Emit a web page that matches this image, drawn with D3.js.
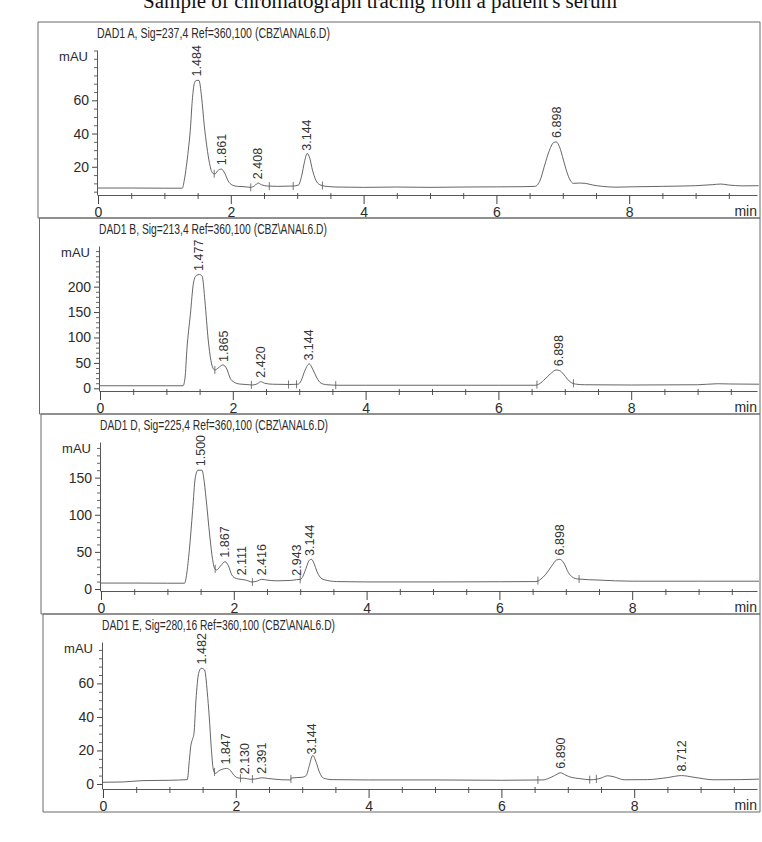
<!DOCTYPE html>
<html>
<head>
<meta charset="utf-8">
<script src="https://cdn.jsdelivr.net/npm/d3@7"></script>
<style>
    body { margin: 0; background: #fff; }
    svg { display: block; }
    .narrow { font-family: "Liberation Sans Narrow", "Arial Narrow", "Liberation Sans", sans-serif; fill: #2b2b2b; }
    .peak { font-family: "Liberation Sans", Arial, sans-serif; font-size: 12.5px; fill: #333; }
    .trace { fill: none; stroke: #4a4a4a; stroke-width: 0.85; }
    .frame { fill: none; stroke: #6a6a6a; stroke-width: 1; }
    .mark { stroke: #555; stroke-width: 0.8; }
</style>
</head>
<body>
<svg id="chart" width="762" height="842"></svg>
<script>
"use strict";

const pageTitle = "Sample of chromatograph tracing from a patient's serum";

const signalTitles = [
    "DAD1 A, Sig=237,4 Ref=360,100 (CBZ\\ANAL6.D)",
    "DAD1 B, Sig=213,4 Ref=360,100 (CBZ\\ANAL6.D)",
    "DAD1 D, Sig=225,4 Ref=360,100 (CBZ\\ANAL6.D)",
    "DAD1 E, Sig=280,16 Ref=360,100 (CBZ\\ANAL6.D)"
];

// [time (min), absorbance (mAU)]
const traceA = [
    [0, 7.2], [0.5, 7.2], [1.0, 7.1], [1.27, 7.1], [1.30, 12], [1.33, 20], [1.36, 30], [1.39, 42],
    [1.42, 60], [1.45, 70], [1.48, 72], [1.52, 72], [1.56, 62], [1.60, 45], [1.64, 32], [1.68, 22],
    [1.72, 16.5], [1.76, 15.6], [1.80, 17.5], [1.86, 18.6], [1.91, 16], [1.96, 11.5], [2.02, 9],
    [2.10, 8.2], [2.20, 8], [2.30, 7.6], [2.36, 8.6], [2.41, 10.2], [2.46, 9.2], [2.55, 8.4],
    [2.70, 8.2], [2.94, 8.4], [3.02, 9], [3.07, 15], [3.11, 23], [3.15, 28], [3.19, 25], [3.23, 18],
    [3.28, 12], [3.34, 9.2], [3.42, 8.3], [3.6, 7.8], [4.0, 7.6], [4.5, 7.8], [5.0, 7.6], [5.5, 7.8],
    [6.0, 7.9], [6.4, 8], [6.58, 8.2], [6.66, 12], [6.72, 20], [6.79, 29], [6.86, 34.5], [6.90, 35],
    [6.95, 32], [7.01, 24], [7.06, 17], [7.11, 12], [7.16, 10], [7.25, 10.2], [7.34, 10], [7.45, 9],
    [7.6, 8.2], [7.8, 7.7], [8.0, 7.9], [8.5, 8.2], [9.0, 8.6], [9.25, 9.2], [9.38, 9.6], [9.5, 9],
    [9.7, 8.5], [9.95, 8.6]
];
const traceB = [
    [0, 5], [0.5, 5], [1.0, 5], [1.25, 5], [1.28, 20], [1.31, 79], [1.36, 144], [1.41, 209],
    [1.45, 222], [1.50, 224], [1.54, 220], [1.58, 172], [1.63, 95], [1.67, 55], [1.70, 40],
    [1.73, 36], [1.78, 40], [1.85, 46], [1.91, 38], [1.96, 20], [2.02, 12], [2.10, 8.5], [2.20, 7.5],
    [2.30, 6.5], [2.37, 9], [2.42, 13], [2.48, 10], [2.60, 8], [2.86, 7.5], [2.98, 8], [3.03, 15],
    [3.08, 33], [3.15, 48], [3.21, 36], [3.26, 22], [3.33, 10], [3.42, 7], [3.6, 6], [4.0, 6],
    [5.0, 6], [6.0, 6], [6.55, 6], [6.62, 9], [6.70, 18], [6.78, 28], [6.87, 36], [6.92, 35],
    [6.98, 28], [7.04, 18], [7.10, 11], [7.18, 8], [7.3, 7], [8.0, 6.5], [9.0, 7], [9.3, 9],
    [9.5, 8.5], [9.95, 8]
];
const traceD = [
    [0, 8], [0.5, 8], [1.0, 7.8], [1.26, 7.8], [1.29, 20], [1.33, 52], [1.38, 106], [1.42, 150],
    [1.46, 160], [1.52, 160], [1.55, 148], [1.58, 124], [1.64, 70], [1.68, 40], [1.71, 28],
    [1.74, 25.6], [1.80, 31], [1.867, 36.8], [1.92, 31], [1.97, 19], [2.04, 14], [2.11, 13],
    [2.18, 12], [2.28, 9.4], [2.36, 11], [2.416, 13], [2.50, 12], [2.65, 11], [2.85, 11.5],
    [2.943, 12.5], [3.00, 13], [3.04, 17], [3.08, 26], [3.14, 39], [3.17, 40], [3.21, 34],
    [3.25, 24], [3.30, 16], [3.36, 12.5], [3.55, 10], [4.0, 9.5], [5.0, 9.5], [6.0, 9.8],
    [6.55, 10], [6.62, 13], [6.70, 20], [6.78, 30], [6.86, 39], [6.91, 40], [6.97, 35], [7.04, 22],
    [7.10, 16], [7.18, 13.5], [7.5, 12], [8.0, 10.5], [9.0, 10.5], [9.95, 10.5]
];
const traceE = [
    [0, 1], [0.3, 1.2], [0.6, 2], [1.0, 2.2], [1.27, 2.6], [1.30, 14], [1.32, 22], [1.35, 27],
    [1.37, 30], [1.40, 50], [1.44, 66], [1.48, 69], [1.53, 68], [1.57, 55], [1.60, 40], [1.63, 22],
    [1.66, 9], [1.69, 6.3], [1.75, 8], [1.80, 8.8], [1.86, 9.3], [1.92, 8], [1.97, 5.3], [2.05, 3.5],
    [2.13, 3.4], [2.22, 2.8], [2.30, 3], [2.391, 3.7], [2.48, 3.3], [2.70, 2.5], [2.82, 2.4],
    [2.84, 3.6], [3.00, 4], [3.06, 5], [3.10, 10], [3.16, 17], [3.21, 13], [3.26, 7], [3.32, 3.5],
    [3.45, 2.6], [4.0, 2.4], [5.0, 2.4], [6.0, 2.2], [6.62, 2.4], [6.72, 3.5], [6.80, 5],
    [6.89, 6.7], [6.97, 5.2], [7.05, 4], [7.18, 3.2], [7.35, 2.5], [7.5, 3.5], [7.6, 4.9],
    [7.7, 4.2], [7.85, 2.5], [8.2, 2.6], [8.5, 3.8], [8.712, 5], [8.9, 4], [9.2, 2.5], [9.6, 2.6],
    [9.95, 3]
];

// retention time labels printed above each peak
const peaksA = ["1.484", "1.861", "2.408", "3.144", "6.898"];
const peaksB = ["1.477", "1.865", "2.420", "3.144", "6.898"];
const peaksD = ["1.500", "1.867", "2.111", "2.416", "2.943", "3.144", "6.898"];
const peaksE = ["1.482", "1.847", "2.130", "2.391", "3.144", "6.890", "8.712"];

// integration event ticks on the traces
const marksA = [1.75, 2.30, 2.58, 2.94, 3.38];
const marksB = [1.73, 2.28, 2.84, 2.96, 3.55, 6.58, 7.13];
const marksD = [1.72, 2.28, 3.00, 6.58, 7.20];
const marksE = [1.68, 2.07, 2.25, 2.83, 6.55, 7.33, 7.43];

const xTicks = [0, 2, 4, 6, 8];
const yTicksA = [20, 40, 60];
const yTicksB = [0, 50, 100, 150, 200];
const yTicksD = [0, 50, 100, 150];
const yTicksE = [0, 20, 40, 60];

const yDomainA = [3, 90.3];
const yDomainB = [-5.3, 280];
const yDomainD = [-2.7, 198];
const yDomainE = [-3, 84.7];

/**
 * @class
 */
class ChromatogramPanel {

    /**
     * @constructor
     * @param svg {*}
     * @param opts {{top:number, bottom:number, left:number, zeroX:number, title:string,
     *   titleWidth:number, trace:Array, peaks:Array, marks:Array, yTicks:Array, yDomain:Array, minorStep:number}}
     */
    constructor(svg, opts) {
        this.svg = svg;
        this.opts = opts;
    }

    /**
     * @param t {number}
     * @return {number}
     */
    valueAt(t) {
        const trace = this.opts.trace;
        const i = d3.bisector(d => d[0]).left(trace, t);
        if (i <= 0) return trace[0][1];
        if (i >= trace.length) return trace[trace.length - 1][1];
        const a = trace[i - 1], b = trace[i];
        return a[1] + (b[1] - a[1]) * (t - a[0]) / (b[0] - a[0]);
    }

    render(idx) {
        const o = this.opts;
        const right = ChromatogramPanel.frameRight;
        const axisY = o.bottom - 23;
        const g = this.svg.append("g");

        g.append("path").attr("class", "frame")
            .attr("d", `M${right},${o.top}H${o.left}V${o.bottom}H${right}V${o.top}`);

        const x = d3.scaleLinear()
            .domain([0, (right - 3 - o.zeroX) / ChromatogramPanel.pxPerMin])
            .range([o.zeroX, right - 3]);
        const y = d3.scaleLinear().domain(o.yDomain).range([axisY, o.top + 28]);

        g.append("text").attr("class", "narrow")
            .attr("x", o.zeroX - 1).attr("y", o.top + 16)
            .attr("font-size", 14)
            .attr("textLength", o.titleWidth).attr("lengthAdjust", "spacingAndGlyphs")
            .text(o.title);

        // x axis, minor ticks every half minute
        const minorX = d3.range(0.5, x.domain()[1], 0.5).filter(v => v % 2 !== 0);
        g.append("g").attr("transform", `translate(0,${axisY - 2})`)
            .call(d3.axisBottom(x).tickValues(minorX).tickSize(6).tickFormat(""))
            .call(s => s.select(".domain").remove())
            .selectAll("line").attr("stroke", "#555");
        const xAxis = g.append("g").attr("transform", `translate(0,${axisY})`)
            .call(d3.axisBottom(x).tickValues(xTicks).tickSize(9).tickSizeOuter(0).tickPadding(3));
        xAxis.select(".domain").attr("stroke", "#444").attr("stroke-width", 0.9);
        xAxis.selectAll("line").attr("stroke", "#444");
        xAxis.selectAll("text").attr("class", "narrow").attr("font-size", 14);

        g.append("text").attr("class", "narrow")
            .attr("x", right - 3).attr("y", o.bottom - 2)
            .attr("text-anchor", "end").attr("font-size", 14)
            .text("min");

        // y axis
        const minorY = d3.range(Math.ceil(o.yDomain[0] / o.minorStep) * o.minorStep, o.yDomain[1], o.minorStep)
            .filter(v => o.yTicks.indexOf(v) < 0);
        g.append("g").attr("transform", `translate(${o.zeroX - 1},0)`)
            .call(d3.axisLeft(y).tickValues(minorY).tickSize(3).tickFormat(""))
            .call(s => s.select(".domain").remove())
            .selectAll("line").attr("stroke", "#666");
        const yAxis = g.append("g").attr("transform", `translate(${o.zeroX - 1},0)`)
            .call(d3.axisLeft(y).tickValues(o.yTicks).tickSize(5).tickSizeOuter(0).tickPadding(3));
        yAxis.select(".domain").attr("stroke", "#444").attr("stroke-width", 0.9);
        yAxis.selectAll("line").attr("stroke", "#444");
        yAxis.selectAll("text").attr("class", "narrow").attr("font-size", 14);

        g.append("text").attr("class", "narrow")
            .attr("x", o.zeroX - 10).attr("y", o.top + 39)
            .attr("text-anchor", "end").attr("font-size", 13)
            .text("mAU");

        // trace
        g.append("clipPath").attr("id", "clip" + idx)
            .append("rect").attr("x", o.left).attr("y", o.top)
            .attr("width", right - 1 - o.left).attr("height", o.bottom - o.top);
        const line = d3.line().x(d => x(d[0])).y(d => y(d[1])).curve(d3.curveMonotoneX);
        g.append("path").datum(o.trace)
            .attr("class", "trace")
            .attr("clip-path", `url(#clip${idx})`)
            .attr("d", line);

        g.selectAll(".mark").data(o.marks).join("line")
            .attr("class", "mark")
            .attr("x1", d => x(d)).attr("x2", d => x(d))
            .attr("y1", d => y(this.valueAt(d)) - 4)
            .attr("y2", d => y(this.valueAt(d)) + 4);

        g.selectAll(".peak").data(o.peaks).join("text")
            .attr("class", "peak")
            .attr("transform", d => `translate(${x(+d)},${y(this.valueAt(+d)) - 4}) rotate(-90)`)
            .attr("dy", "0.36em")
            .text(d => d);
    }

    static get frameRight() {
        return 760;
    }

    static get pxPerMin() {
        return 66.4;
    }
}

const svg = d3.select("#chart");
svg.append("rect").attr("width", 762).attr("height", 842).attr("fill", "#fff");

svg.append("text")
    .attr("x", 380).attr("y", 8)
    .attr("text-anchor", "middle")
    .attr("font-family", "'Liberation Serif', 'Times New Roman', serif")
    .attr("font-size", 20).attr("fill", "#111")
    .attr("textLength", 474).attr("lengthAdjust", "spacingAndGlyphs")
    .text(pageTitle);

// the scan is slightly skewed, so every panel has its own left offset
const panelTops = [22, 218, 414, 614, 812];
const panelLeft = [38, 39.5, 41, 43];
const zeroX = [98, 100, 101, 103];
const titleWidths = [233, 228, 228, 233];
const traces = [traceA, traceB, traceD, traceE];
const peaks = [peaksA, peaksB, peaksD, peaksE];
const marks = [marksA, marksB, marksD, marksE];
const yTicks = [yTicksA, yTicksB, yTicksD, yTicksE];
const yDomains = [yDomainA, yDomainB, yDomainD, yDomainE];
const minorSteps = [5, 10, 10, 5];

signalTitles.forEach((title, i) => {
    new ChromatogramPanel(svg, {
        top: panelTops[i],
        bottom: panelTops[i + 1],
        left: panelLeft[i],
        zeroX: zeroX[i],
        title: title,
        titleWidth: titleWidths[i],
        trace: traces[i],
        peaks: peaks[i],
        marks: marks[i],
        yTicks: yTicks[i],
        yDomain: yDomains[i],
        minorStep: minorSteps[i]
    }).render(i);
});
</script>
</body>
</html>
